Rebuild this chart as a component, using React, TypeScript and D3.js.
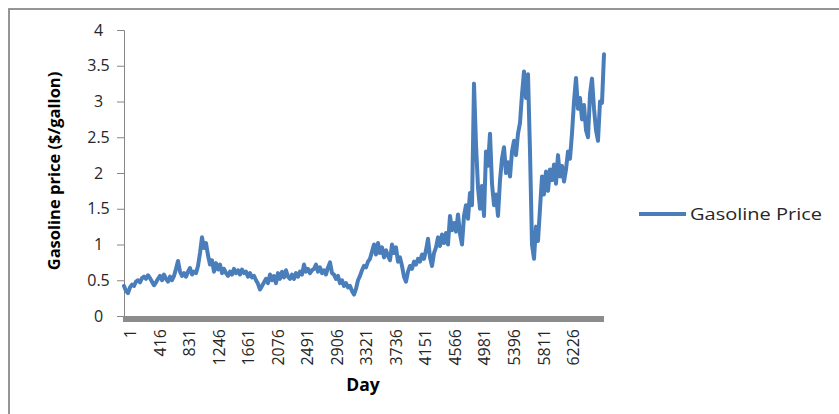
import React, {useEffect, useRef} from 'react';
import * as d3 from "d3"

// Gasoline spot price, one reading every ~28 days (day 1 .. 6750)
const priceValues = [
  0.42, 0.35, 0.32, 0.40, 0.44, 0.42, 0.48, 0.50, 0.47, 0.53, 0.55, 0.52, 0.57, 0.53, 0.48, 0.43,
  0.47, 0.52, 0.56, 0.50, 0.58, 0.52, 0.48, 0.55, 0.50, 0.56, 0.66, 0.77, 0.62, 0.56, 0.60, 0.55,
  0.62, 0.67, 0.58, 0.62, 0.60, 0.70, 0.88, 1.10, 0.95, 1.02, 0.85, 0.72, 0.78, 0.62, 0.74, 0.65,
  0.72, 0.60, 0.66, 0.60, 0.56, 0.62, 0.58, 0.66, 0.60, 0.64, 0.58, 0.65, 0.60, 0.62, 0.55, 0.60,
  0.54, 0.56, 0.50, 0.45, 0.37, 0.42, 0.47, 0.52, 0.46, 0.58, 0.50, 0.56, 0.46, 0.60, 0.52, 0.62,
  0.54, 0.64, 0.55, 0.52, 0.58, 0.52, 0.60, 0.55, 0.62, 0.58, 0.72, 0.62, 0.66, 0.60, 0.64, 0.66,
  0.72, 0.62, 0.68, 0.60, 0.64, 0.58, 0.68, 0.75, 0.60, 0.58, 0.52, 0.56, 0.46, 0.50, 0.42, 0.46,
  0.40, 0.42, 0.35, 0.30, 0.38, 0.50, 0.56, 0.64, 0.70, 0.68, 0.76, 0.80, 0.90, 1.00, 0.86, 1.02,
  0.88, 0.96, 0.82, 0.92, 0.84, 0.78, 1.00, 0.88, 0.96, 0.76, 0.82, 0.70, 0.55, 0.48, 0.62, 0.70,
  0.66, 0.76, 0.72, 0.80, 0.76, 0.86, 0.80, 0.92, 1.08, 0.82, 0.70, 0.88, 0.96, 1.10, 0.98, 1.14,
  1.02, 1.16, 1.00, 1.40, 1.20, 1.30, 1.18, 1.42, 1.15, 1.00, 1.40, 1.55, 1.36, 1.72, 1.55, 3.25,
  2.40, 1.80, 1.50, 1.82, 1.40, 2.30, 2.10, 2.55, 1.85, 1.55, 1.70, 1.40, 1.90, 2.20, 2.36, 2.00,
  2.15, 1.95, 2.30, 2.45, 2.25, 2.55, 2.70, 3.10, 3.42, 3.05, 3.38, 2.30, 1.00, 0.80, 1.25, 1.05,
  1.50, 1.95, 1.70, 2.02, 1.75, 2.05, 1.90, 2.12, 1.85, 2.25, 1.95, 2.10, 1.88, 2.05, 2.30, 2.20,
  2.55, 3.00, 3.33, 2.90, 3.05, 2.75, 2.95, 2.60, 2.50, 3.10, 3.32, 2.90, 2.60, 2.45, 3.00, 2.98,
  3.66
]
const firstDay = 1
const lastDay = 6750
const dayTicks = [1, 416, 831, 1246, 1661, 2076, 2491, 2906, 3321, 3736, 4151, 4566, 4981, 5396, 5811, 6226]
const priceTicks = [0, 0.5, 1, 1.5, 2, 2.5, 3, 3.5, 4]
const seriesName = "Gasoline Price"

const font = "'Open Sans', 'Noto Sans', sans-serif"

function GasolineChart() {
  const ref = useRef<SVGSVGElement>(null)

  useEffect(() => {
    const svg = d3.select(ref.current)
    svg.selectAll("*").remove()

    const margin = {left: 124, right: 604, top: 30, bottom: 316}

    const x = d3.scaleLinear().domain([firstDay, lastDay]).range([margin.left, margin.right])
    const y = d3.scaleLinear().domain([0, 4]).range([margin.bottom, margin.top])
    // sample index -> day
    const dayOf = d3.scaleLinear().domain([0, priceValues.length - 1]).range([firstDay, lastDay])

    // chart frame (runs past the right and bottom edges)
    svg.append("rect")
      .attr("x", 9).attr("y", 9)
      .attr("width", 860).attr("height", 440)
      .attr("fill", "none")
      .attr("stroke", "#8a8a8a")
      .attr("stroke-width", 1.8)

    // y axis
    const yAxis = (g: any) => g
      .attr("transform", `translate(${margin.left},0)`)
      .call(d3.axisLeft(y).tickValues(priceTicks).tickSize(7).tickFormat((d: any) => String(d)))
      .call((g: any) => g.select(".domain").attr("stroke", "#868686"))
      .call((g: any) => g.selectAll(".tick line").attr("stroke", "#868686"))
      .call((g: any) => g.selectAll(".tick text")
        .attr("x", -25.5)
        .attr("text-anchor", "middle")
        .attr("fill", "#262626")
        .attr("font-size", 16)
        .attr("font-family", font))
    svg.append("g").call(yAxis)

    // thick category axis bar
    svg.append("line")
      .attr("x1", margin.left - 1).attr("x2", margin.right)
      .attr("y1", margin.bottom + 3).attr("y2", margin.bottom + 3)
      .attr("stroke", "#8c8c8c")
      .attr("stroke-width", 6)

    // rotated day labels
    svg.append("g")
      .selectAll("text")
      .data(dayTicks)
      .join("text")
      .attr("transform", d => `translate(${x(d) + 6.7},329) rotate(-90)`)
      .attr("dy", "0.35em")
      .attr("text-anchor", "end")
      .attr("fill", "#262626")
      .attr("font-size", 16)
      .attr("font-family", font)
      .text(d => d)

    // series
    const line = d3.line<number>()
      .x((d, i) => x(dayOf(i)))
      .y(d => y(d))
    svg.append("path")
      .datum(priceValues)
      .attr("d", line)
      .attr("fill", "none")
      .attr("stroke", "#4a7ebb")
      .attr("stroke-width", 4)
      .attr("stroke-linejoin", "round")
      .attr("stroke-linecap", "round")

    // axis titles
    svg.append("text")
      .attr("transform", `translate(60,171) rotate(-90)`)
      .attr("text-anchor", "middle")
      .attr("font-weight", "bold")
      .attr("font-size", 16.5)
      .attr("font-family", font)
      .attr("fill", "#000")
      .text("Gasoline price ($/gallon)")

    svg.append("text")
      .attr("x", 363).attr("y", 391)
      .attr("text-anchor", "middle")
      .attr("font-weight", "bold")
      .attr("font-size", 17.5)
      .attr("font-family", font)
      .attr("fill", "#000")
      .text("Day")

    // legend
    svg.append("line")
      .attr("x1", 639).attr("x2", 686)
      .attr("y1", 214).attr("y2", 214)
      .attr("stroke", "#4a7ebb")
      .attr("stroke-width", 4)
    svg.append("text")
      .attr("x", 690).attr("y", 214)
      .attr("dy", "0.35em")
      .attr("font-size", 17)
      .attr("font-family", font)
      .attr("fill", "#262626")
      .attr("textLength", 132)
      .attr("lengthAdjust", "spacingAndGlyphs")
      .text(seriesName)
  }, [])

  return (
    <svg
      ref={ref}
      width={839}
      height={414}
      style={{position: "absolute", left: 0, top: 0, background: "#fff"}}
    />
  )
}

export default function App() {
  return <GasolineChart />
}
